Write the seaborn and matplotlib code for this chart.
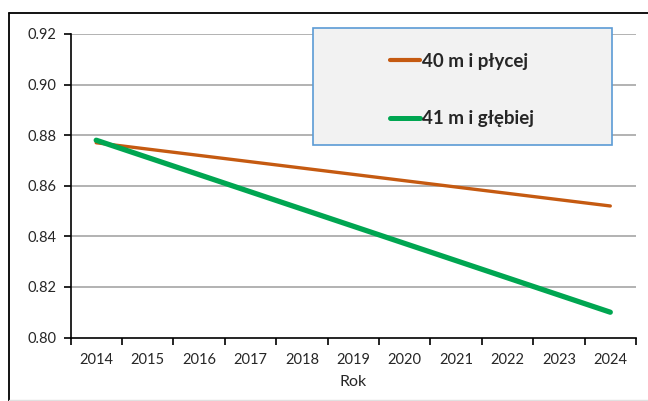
import matplotlib
matplotlib.use("Agg")
import matplotlib.pyplot as plt
from matplotlib.patches import Rectangle
from matplotlib.lines import Line2D
import numpy as np
import pandas as pd
import seaborn as sns

# Data
years = [2014, 2015, 2016, 2017, 2018, 2019, 2020, 2021, 2022, 2023, 2024]
shallow = [0.877, 0.8745, 0.872, 0.8695, 0.867, 0.8645, 0.862, 0.8595, 0.857, 0.8545, 0.852]
deep = [0.878, 0.8712, 0.8644, 0.8576, 0.8508, 0.844, 0.8372, 0.8304, 0.8236, 0.8168, 0.810]
series_names = ["40 m i płycej", "41 m i głębiej"]
y_ticks = [0.80, 0.82, 0.84, 0.86, 0.88, 0.90, 0.92]

sns.set_theme(style="white")
plt.rcParams["font.family"] = ["Lato", "DejaVu Sans"]

df = pd.DataFrame({
    "pos": list(range(len(years))) * 2,
    "value": shallow + deep,
    "series": [series_names[0]] * len(years) + [series_names[1]] * len(years),
})

W, H = 648, 401
fig = plt.figure(figsize=(W / 100, H / 100), dpi=100)
ax = fig.add_axes([70.5 / W, (H - 337.5) / H, (636 - 70.5) / W, (337.5 - 34) / H])

# Outer chart border
fig.add_artist(Line2D([9 / W, 1.0], [(H - 13) / H] * 2, transform=fig.transFigure,
                      color="black", linewidth=1.3, zorder=0))
fig.add_artist(Line2D([9 / W] * 2, [0.0, (H - 13) / H], transform=fig.transFigure,
                      color="black", linewidth=1.3, zorder=0))
fig.add_artist(Line2D([9 / W, 1.0], [1.5 / H] * 2, transform=fig.transFigure,
                      color="#e0e0e0", linewidth=1.0, zorder=0))

# Grid
for v in y_ticks[1:]:
    ax.axhline(v, color="#a6a6a6", linewidth=1.2, zorder=1)

palette = {series_names[0]: "#c55a11", series_names[1]: "#00a651"}
sns.lineplot(data=df, x="pos", y="value", hue="series", palette=palette,
             ax=ax, legend=False, zorder=3)
lines = ax.get_lines()[-2:]
lines[0].set_linewidth(2.4)
lines[1].set_linewidth(3.8)
for ln in lines:
    ln.set_solid_capstyle("round")

ax.set_xlim(-0.5, len(years) - 0.5)
ax.set_ylim(0.80, 0.92)
ax.set_yticks(y_ticks)
ax.set_yticklabels([f"{v:.2f}" for v in y_ticks])
ax.set_xticks(range(len(years)))
ax.set_xticklabels([str(y) for y in years])
ax.set_xticks(np.arange(-0.5, len(years), 1.0), minor=True)
ax.tick_params(axis="x", which="major", length=0, pad=11, labelsize=10.5, colors="#262626")
ax.tick_params(axis="x", which="minor", length=5, width=1.2, color="black", direction="out", bottom=True)
ax.tick_params(axis="y", which="major", length=5, width=1.2, color="black", direction="out",
               left=True, pad=5, labelsize=10.5, labelcolor="#262626")
ax.set_xlabel("Rok", fontsize=11.5, color="#262626", labelpad=6)
ax.set_ylabel("")

for side in ["top", "right"]:
    ax.spines[side].set_visible(False)
for side in ["left", "bottom"]:
    ax.spines[side].set_color("black")
    ax.spines[side].set_linewidth(1.2)

# Legend box
fig.patches.append(Rectangle((313 / W, (H - 145) / H), (612 - 313) / W, (145 - 28) / H,
                             transform=fig.transFigure, facecolor="#f2f2f2",
                             edgecolor="#5b9bd5", linewidth=1.2, zorder=5))
handles = [Line2D([], [], color=palette[series_names[0]], linewidth=3.0, solid_capstyle="round"),
           Line2D([], [], color=palette[series_names[1]], linewidth=3.6, solid_capstyle="round")]
leg = fig.legend(handles, series_names, loc="upper left",
                 bbox_to_anchor=(373 / W, (H - 36) / H), bbox_transform=fig.transFigure,
                 frameon=False, handlelength=1.6, handletextpad=0.1,
                 labelspacing=2.15, prop={"weight": "bold", "size": 13.5})
leg.set_zorder(6)
for t in leg.get_texts():
    t.set_color("#262626")

fig.savefig("out.png", dpi=100, facecolor="white")
